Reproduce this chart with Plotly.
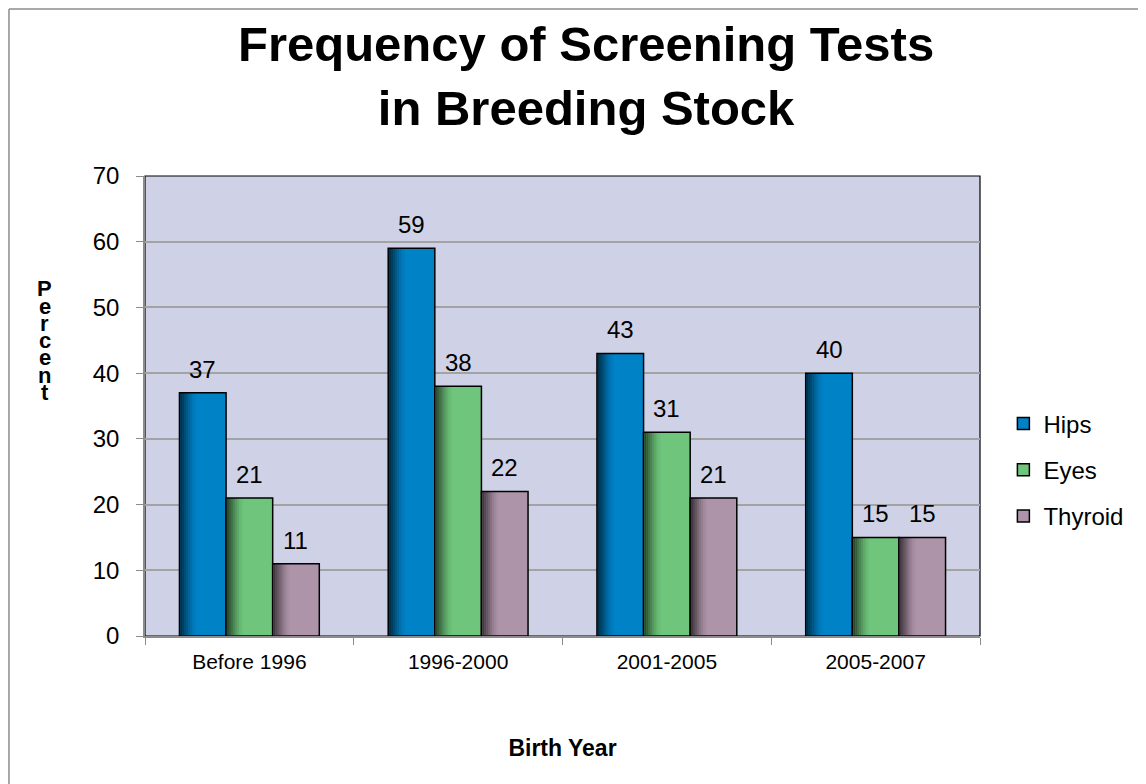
import plotly.graph_objects as go

# ---- data --------------------------------------------------------------------

categories = ["Before 1996", "1996-2000", "2001-2005", "2005-2007"]
series_names = ["Hips", "Eyes", "Thyroid"]
hips = [37, 59, 43, 40]
eyes = [21, 38, 31, 15]
thyroid = [11, 22, 21, 15]

COLOURS = {
    "Hips": "#0082C7",
    "Eyes": "#6EC57B",
    "Thyroid": "#AE94A9",
}

BAR_W = 0.2233
OFFSETS = [-1.5 * BAR_W, -0.5 * BAR_W, 0.5 * BAR_W]
CAT_PX = 835 / 4  # pixels per category on the x axis

# dark shading along the left edge of each bar (fake gradient)
SHADE_STEP = 0.0096
SHADE_ALPHA = [0.62, 0.52, 0.42, 0.32, 0.22, 0.14, 0.07, 0.03]

fig = go.Figure()

for name, values, off in zip(series_names, [hips, eyes, thyroid], OFFSETS):
    fig.add_trace(go.Bar(
        x=categories,
        y=values,
        name=name,
        legendgroup=name,
        offset=off,
        width=BAR_W,
        marker=dict(color=COLOURS[name], line=dict(color="#000000", width=1.5)),
        hoverinfo="skip",
    ))
    for i, a in enumerate(SHADE_ALPHA):
        fig.add_trace(go.Bar(
            x=categories,
            y=[v - 0.12 for v in values],
            base=0.12,
            offset=off + 0.004 + i * SHADE_STEP,
            width=SHADE_STEP,
            marker=dict(color=f"rgba(0,0,0,{a})", line=dict(width=0)),
            showlegend=False,
            hoverinfo="skip",
        ))
    # value labels above the bars
    for cat, v in zip(categories, values):
        fig.add_annotation(
            x=cat, y=v, xref="x", yref="y",
            text=str(v), showarrow=False,
            xshift=(off + BAR_W / 2) * CAT_PX, yshift=8,
            yanchor="bottom", font=dict(size=24, color="#000000"),
        )

# stacked "Percent" axis title
for i, ch in enumerate("Percent"):
    fig.add_annotation(
        text=f"<b>{ch}</b>", xref="paper", yref="paper",
        x=-0.1198, y=0.755, yshift=-17.3 * i,
        showarrow=False, font=dict(size=22, color="#000000"),
        xanchor="center", yanchor="middle",
    )

# chart title
fig.add_annotation(
    text="<b>Frequency of Screening Tests<br>in Breeding Stock</b>",
    xref="paper", yref="paper", x=0.528, y=1.218,
    xanchor="center", yanchor="middle", showarrow=False,
    font=dict(size=49, color="#000000"),
)

# plot area border and outer frame
fig.add_shape(type="rect", xref="paper", yref="paper", x0=0, y0=0, x1=1, y1=1,
              line=dict(color="#000000", width=1.2), layer="below")
fig.add_shape(type="line", xref="paper", yref="paper", x0=-0.1629, y0=1.363, x1=-0.1629, y1=-0.4,
              line=dict(color="#8C8C8C", width=1.5))
fig.add_shape(type="line", xref="paper", yref="paper", x0=-0.1629, y0=1.363, x1=1.3, y1=1.363,
              line=dict(color="#8C8C8C", width=1.5))

fig.update_layout(
    width=1146,
    height=784,
    barmode="overlay",
    font=dict(family="Arial, Liberation Sans, sans-serif", color="#000000"),
    paper_bgcolor="#FFFFFF",
    plot_bgcolor="#CFD2E6",
    margin=dict(l=137, r=174, t=168, b=156),
    xaxis=dict(
        title=dict(text="<b>Birth Year</b>", font=dict(size=23), standoff=68),
        tickfont=dict(size=21),
        ticks="outside", tickson="boundaries", ticklen=7, tickcolor="#8C8C8C",
        ticklabelstandoff=6,
        showline=True, linecolor="#8C8C8C", linewidth=1.5,
        showgrid=False,
    ),
    yaxis=dict(
        range=[0, 70], dtick=10,
        tickfont=dict(size=24),
        ticks="outside", ticklen=7, tickcolor="#8C8C8C",
        ticklabelstandoff=12,
        showline=True, linecolor="#8C8C8C", linewidth=1.5,
        showgrid=True, gridcolor="#A3A3A3", gridwidth=1.5,
        zeroline=False,
    ),
    legend=dict(
        x=1.028, y=0.361, xanchor="left", yanchor="middle",
        font=dict(size=24), tracegroupgap=12,
        bgcolor="rgba(0,0,0,0)",
    ),
    showlegend=True,
)

fig.write_html("out.html")
